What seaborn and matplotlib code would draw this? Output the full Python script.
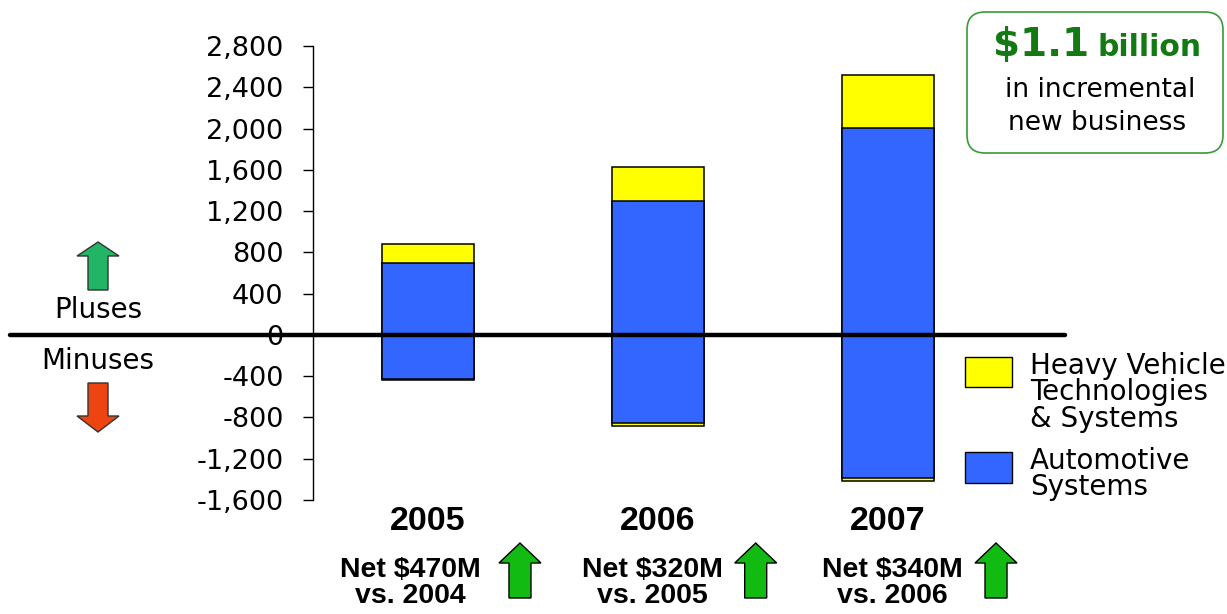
import matplotlib
matplotlib.use('Agg')
import matplotlib.pyplot as plt
import seaborn as sns
import pandas as pd
from matplotlib.patches import Polygon, FancyBboxPatch, Rectangle
from matplotlib.lines import Line2D
from matplotlib.transforms import blended_transform_factory, IdentityTransform

# ---------------- data ----------------
years = ['2005', '2006', '2007']
auto_pos = [695, 1294, 2008]      # Automotive Systems, pluses
hv_pos = [184, 338, 512]          # Heavy Vehicle, pluses
auto_neg = [-425, -852, -1388]    # Automotive Systems, minuses
hv_neg = [-10, -30, -30]          # Heavy Vehicle, minuses
net_labels = ['Net $470M\nvs. 2004', 'Net $320M\nvs. 2005', 'Net $340M\nvs. 2006']
yticks = [-1600, -1200, -800, -400, 0, 400, 800, 1200, 1600, 2000, 2400, 2800]
series_names = ['Heavy Vehicle\nTechnologies\n& Systems', 'Automotive\nSystems']

# ---------------- layout / style ----------------
YELLOW = '#FFFF00'
BLUE = '#3366FF'
net_text_dx = [-0.075, -0.025, 0.02]
net_arrow_dx = [0.40, 0.425, 0.47]

sns.set_theme(style='white')
plt.rcParams['font.family'] = ['DejaVu Sans']
NARROW = ['Liberation Sans Narrow', 'Liberation Sans', 'DejaVu Sans']

W, H = 1227, 614
fig = plt.figure(figsize=(W / 100, H / 100), dpi=100)
fig.patch.set_facecolor('white')
ax = fig.add_axes([313 / W, 1 - 500 / H, (1065 - 313) / W, (500 - 46) / H])
ax.set_facecolor('white')


def fx(x):
    return x / W


def fy(y):
    return 1 - y / H


df = pd.DataFrame({'year': years, 'auto_pos': auto_pos, 'hv_pos': hv_pos,
                   'auto_neg': auto_neg, 'hv_neg': hv_neg})
df['tot_pos'] = df['auto_pos'] + df['hv_pos']
df['tot_neg'] = df['auto_neg'] + df['hv_neg']

bar_kw = dict(x='year', order=years, width=0.4, edgecolor='black', linewidth=1.1,
              saturation=1, errorbar=None, ax=ax)
sns.barplot(data=df, y='tot_pos', color=YELLOW, **bar_kw)
sns.barplot(data=df, y='tot_neg', color=YELLOW, **bar_kw)
sns.barplot(data=df, y='auto_pos', color=BLUE, **bar_kw)
sns.barplot(data=df, y='auto_neg', color=BLUE, **bar_kw)

ax.set_xlim(-0.5, 2.77)
ax.set_ylim(-1600, 2800)
ax.set_xlabel('')
ax.set_ylabel('')
ax.set_yticks(yticks, labels=[f'{v:,}' for v in yticks])
ax.tick_params(axis='y', left=True, direction='out', length=7.2, width=1,
               color='black', labelsize=19.5, pad=14, labelcolor='black')
ax.set_xticks(range(len(years)), labels=years)
for lab in ax.get_xticklabels():
    lab.set_fontfamily(NARROW)
    lab.set_fontweight('bold')
    lab.set_fontsize(24.5)
    lab.set_color('black')
ax.tick_params(axis='x', bottom=False, length=0, pad=4)
for s in ['top', 'right', 'bottom']:
    ax.spines[s].set_visible(False)
ax.spines['left'].set_color('black')
ax.spines['left'].set_linewidth(1)
ax.spines['left'].set_bounds(-1600, 2800)
ax.grid(False)

# zero line extending to the left of the axis
blend = blended_transform_factory(fig.transFigure, ax.transData)
fig.add_artist(Line2D([fx(10), fx(1065)], [0, 0], transform=blend, color='black',
                      lw=3.2, zorder=5, clip_on=False))

# net labels & arrows under each year
tb = blended_transform_factory(ax.transData, fig.transFigure)
for i, lab in enumerate(net_labels):
    ax.text(i + net_text_dx[i], fy(583), lab, transform=tb, ha='center', va='center',
            fontsize=20.5, fontweight='bold', family=NARROW, linespacing=1.02,
            color='black', clip_on=False)


def arrow(cx, top, bottom, head_w, shaft_w, head_h, color, up=True, ec='#333333'):
    if up:
        pts = [(cx, top), (cx + head_w / 2, top + head_h), (cx + shaft_w / 2, top + head_h),
               (cx + shaft_w / 2, bottom), (cx - shaft_w / 2, bottom),
               (cx - shaft_w / 2, top + head_h), (cx - head_w / 2, top + head_h)]
    else:
        pts = [(cx, bottom), (cx + head_w / 2, bottom - head_h), (cx + shaft_w / 2, bottom - head_h),
               (cx + shaft_w / 2, top), (cx - shaft_w / 2, top),
               (cx - shaft_w / 2, bottom - head_h), (cx - head_w / 2, bottom - head_h)]
    pts = [(fx(a), fy(b)) for a, b in pts]
    fig.add_artist(Polygon(pts, closed=True, facecolor=color, edgecolor=ec, lw=1.0,
                           transform=fig.transFigure, zorder=6))


for i in range(len(years)):
    px = ax.transData.transform((i + net_arrow_dx[i], 0))[0]
    arrow(px, 543, 598, 42, 22, 20, '#11BB11', up=True, ec='black')

# Pluses / Minuses
arrow(98, 242, 290, 42, 20, 14, '#22B565', up=True)
arrow(98, 383, 432, 42, 20, 16, '#EE4411', up=False)
fig.text(fx(98), fy(310), 'Pluses', ha='center', va='center', fontsize=20, color='black')
fig.text(fx(98), fy(361), 'Minuses', ha='center', va='center', fontsize=20, color='black')

# legend
for (y0, y1), col, name in zip([(357, 387), (452, 483)], [YELLOW, BLUE], series_names):
    fig.add_artist(Rectangle((fx(965), fy(y1)), fx(1012) - fx(965), fy(y0) - fy(y1),
                             facecolor=col, edgecolor='black', lw=1.0,
                             transform=fig.transFigure))
    fig.text(fx(1030), fy(y0 - 5), name, ha='left', va='top', fontsize=20,
             linespacing=0.93, color='black')

# call-out box
box = FancyBboxPatch((967, H - 153), 1223 - 967, 153 - 12,
                     boxstyle='round,pad=0,rounding_size=18',
                     facecolor='white', edgecolor='#3A9A3A', lw=1.2,
                     transform=IdentityTransform())
fig.add_artist(box)
GREEN = '#137A13'
fig.text(fx(993), fy(56), '$1.1', ha='left', va='baseline', fontsize=28,
         fontweight='bold', color=GREEN)
fig.text(fx(1097), fy(56), 'billion', ha='left', va='baseline', fontsize=21.5,
         fontweight='bold', color=GREEN)
fig.text(fx(1100), fy(97), 'in incremental', ha='center', va='baseline', fontsize=19,
         color='black')
fig.text(fx(1097), fy(130), 'new business', ha='center', va='baseline', fontsize=19,
         color='black')

fig.savefig('out.png', dpi=100, facecolor='white')
